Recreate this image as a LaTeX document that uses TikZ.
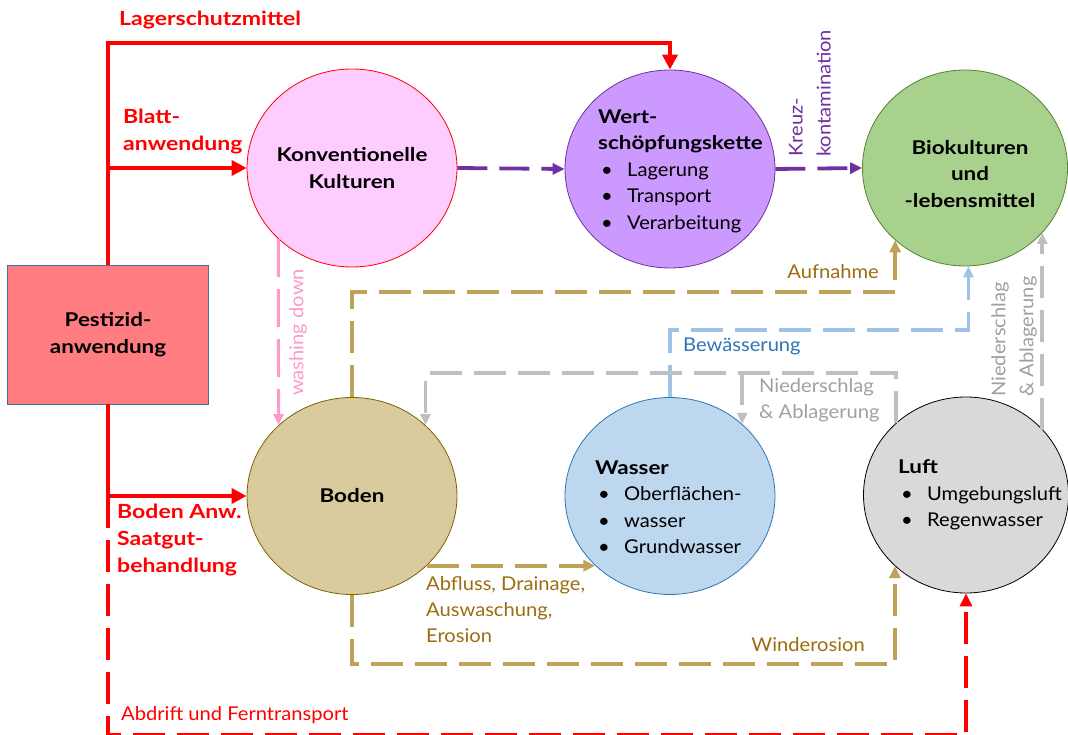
\documentclass[tikz,border=0pt]{standalone}
\usepackage{fontspec}
\setmainfont{Lato}[UprightFeatures={FakeStretch=1.06},BoldFeatures={FakeStretch=1.18}]
\usetikzlibrary{arrows.meta,shapes.geometric}
\definecolor{ptred}{HTML}{FF0000}
\definecolor{boxfill}{HTML}{FF7C80}
\definecolor{boxedge}{HTML}{41719C}
\definecolor{konvfill}{HTML}{FFCCFF}
\definecolor{wertfill}{HTML}{CC99FF}
\definecolor{wertedge}{HTML}{7030A0}
\definecolor{biofill}{HTML}{A9D18E}
\definecolor{bioedge}{HTML}{548235}
\definecolor{bodenfill}{HTML}{D9CB9E}
\definecolor{bodenedge}{HTML}{7F6000}
\definecolor{wasserfill}{HTML}{BDD7EE}
\definecolor{wasseredge}{HTML}{2E75B6}
\definecolor{luftfill}{HTML}{D9D9D9}
\definecolor{tanline}{HTML}{BFA157}
\definecolor{tantext}{HTML}{9C6D10}
\definecolor{pinkline}{HTML}{FF99CC}
\definecolor{blueline}{HTML}{9DC3E6}
\definecolor{bluetext}{HTML}{2E75B6}
\definecolor{grayline}{HTML}{BFBFBF}
\definecolor{graytext}{HTML}{A0A0A0}
\newcommand{\pkt}[1]{\hspace*{3pt}\makebox[26pt][l]{\textbullet}#1}
\newcommand{\txtsize}{\fontsize{19}{26.5}\selectfont}
\tikzset{
 kreis/.style={ellipse,draw,line width=.8pt,minimum width=210pt,minimum height=198pt,inner sep=0},
 kreistext/.style={font=\txtsize,align=left,inner sep=0},
 ptbox/.style={rectangle,draw=boxedge,fill=boxfill,line width=.8pt,minimum width=201pt,minimum height=139pt,font=\txtsize\bfseries,align=center},
 redline/.style={draw=ptred,line width=4.3pt,-{Triangle[length=15pt,width=15pt]}},
 reddash/.style={draw=ptred,line width=3.5pt,dash pattern=on 32pt off 12pt,-{Triangle[length=13pt,width=12pt]}},
 tandash/.style={draw=tanline,line width=3.8pt,dash pattern=on 32pt off 12pt,-{Triangle[length=12pt,width=11pt]}},
 graydash/.style={draw=grayline,line width=3.8pt,dash pattern=on 32pt off 12pt,-{Triangle[length=11pt,width=10pt]}},
 bluedash/.style={draw=blueline,line width=3.8pt,dash pattern=on 32pt off 12pt,-{Triangle[length=11pt,width=10pt]}},
 purpledash/.style={draw=wertedge,line width=3.8pt,dash pattern=on 30pt off 12pt,-{Triangle[length=12pt,width=11pt]}},
 pinkdash/.style={draw=pinkline,line width=3pt,dash pattern=on 38pt off 12pt,-{Triangle[length=11pt,width=10pt]}},
 redlabel/.style={text=ptred,font=\fontsize{19.5}{27}\selectfont\bfseries,align=left,inner sep=0},
 linelabel/.style={font=\fontsize{19}{26}\selectfont,align=left,inner sep=0}
}
\begin{document}
\begin{tikzpicture}[x=1pt,y=-1pt]
\path[use as bounding box] (0,0) rectangle (1068,735);
% routing levels
\coordinate (lager) at (0,43);
\coordinate (auf) at (0,292);
\coordinate (bew) at (0,330);
\coordinate (nied) at (0,373);
\coordinate (wind) at (0,664);
\coordinate (abd) at (0,735);
% boxes and circles
\node[ptbox] (pest) at (108,334.5) {Pestizid-\\anwendung};
\node[kreis,fill=konvfill,draw=ptred] (konv) at (352,168) {};
\node[kreis,fill=wertfill,draw=wertedge] (wert) at (670,169) {};
\node[kreis,fill=biofill,draw=bioedge,minimum width=205pt,minimum height=196pt] (bio) at (965,168) {};
\node[kreis,fill=bodenfill,draw=bodenedge,minimum height=197pt] (boden) at (352,496) {};
\node[kreis,fill=wasserfill,draw=wasseredge,minimum height=197pt] (wasser) at (670,496) {};
\node[kreis,fill=luftfill,draw=black,minimum width=205pt,minimum height=196pt] (luft) at (966,495) {};
% circle texts
\node[kreistext,align=center,font=\txtsize\bfseries] (konvtxt) at (352,168) {Konventionelle\\Kulturen};
\node[kreistext,anchor=west] (werttxt) at (598,171) {\textbf{Wert-}\\\textbf{schöpfungskette}\\\pkt{Lagerung}\\\pkt{Transport}\\\pkt{Verarbeitung}};
\node[kreistext,align=center,font=\txtsize\bfseries] (biotxt) at (970,174) {Biokulturen\\und\\-lebensmittel};
\node[kreistext,font=\txtsize\bfseries] (bodentxt) at (352,496) {Boden};
\node[kreistext,anchor=west] (wassertxt) at (595,507) {\textbf{Wasser}\\\pkt{Oberflächen-}\\\pkt{}wasser\\\pkt{Grundwasser}};
\node[kreistext,anchor=west] (lufttxt) at (898,495) {\textbf{Luft}\\\pkt{Umgebungsluft}\\\pkt{Regenwasser}};
% red application paths
\draw[redline] (pest.north) -- (pest.north |- lager) -| (wert.north);
\draw[redline] (pest.north |- konv.west) -- (konv.west);
\draw[redline] (pest.south) |- (boden.west);
\draw[reddash] (pest.south |- boden.west) -- (pest.south |- abd) -| (luft.south);
% transfer paths
\draw[purpledash] (konv.east) -- (wert.west);
\draw[purpledash] (wert.east) -- (bio.west);
\draw[pinkdash] (konv.224) -- (boden.136);
\draw[tandash] (boden.north) -- (boden.north |- auf) -| (bio.226);
\draw[bluedash] (wasser.north) -- (wasser.north |- bew) -| (bio.272);
\draw[graydash] (luft.134) -- (luft.134 |- nied) -| (boden.44);
\draw[graydash] (wasser.45 |- nied) -- (wasser.45);
\draw[graydash] (bio.320 |- luft.40) -- (bio.320);
\draw[tandash] (boden.317) -- (wasser.223);
\draw[tandash] (boden.south) -- (boden.south |- wind) -| (luft.225);
% labels
\node[redlabel,anchor=west] (lagerlbl) at (119,20) {Lagerschutzmittel};
\node[redlabel,anchor=west] (blattlbl) at (123,132) {Blatt-\\anwendung};
\node[redlabel,anchor=west] (bodenlbl) at (117,540) {Boden Anw.\\Saatgut-\\behandlung};
\node[linelabel,text=ptred,anchor=west] (abdlbl) at (121,715) {Abdrift und Ferntransport};
\node[linelabel,text=pinkline,rotate=90,anchor=west] (washlbl) at (298,396) {washing down};
\node[linelabel,text=wertedge,rotate=90,anchor=west,font=\fontsize{19}{28}\selectfont] (kreuzlbl) at (810,157) {Kreuz-\\kontamination};
\node[linelabel,text=tantext,anchor=east] (auflbl) at (879,272) {Aufnahme};
\node[linelabel,text=bluetext,anchor=west] (bewlbl) at (683,346) {Bewässerung};
\node[linelabel,text=graytext,anchor=west] (niedlbl) at (759,400) {Niederschlag\\\& Ablagerung};
\node[linelabel,text=graytext,rotate=90,anchor=west,font=\fontsize{19}{28}\selectfont] (nied2lbl) at (1014,397) {Niederschlag\\\& Ablagerung};
\node[linelabel,text=tantext,anchor=west] (abflbl) at (426,610) {Abfluss, Drainage,\\Auswaschung,\\Erosion};
\node[linelabel,text=tantext,anchor=east] (windlbl) at (865,645) {Winderosion};
\end{tikzpicture}
\end{document}
